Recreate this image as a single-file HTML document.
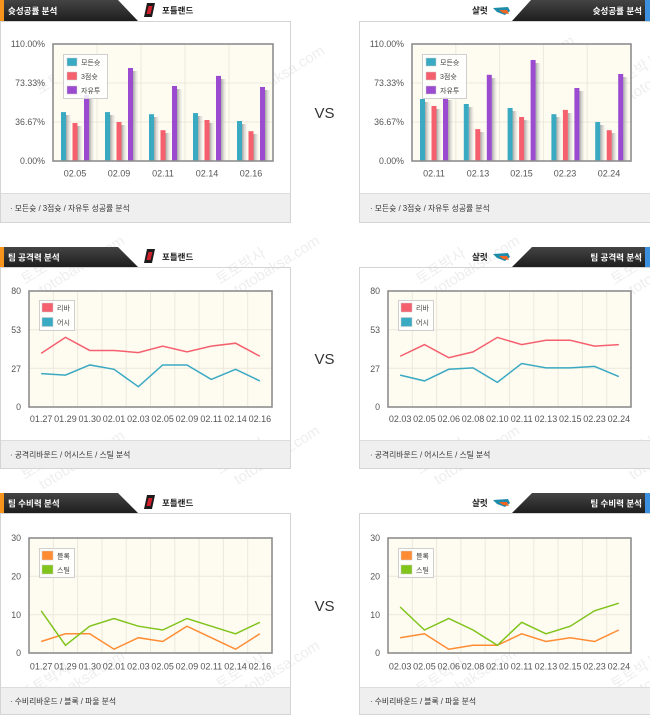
<!DOCTYPE html>
<html><head><meta charset="utf-8">
<style>
html,body{margin:0;padding:0;background:#fff;}
svg{display:block;}
text{font-family:"Liberation Sans","Noto Sans CJK KR",sans-serif;}
</style></head>
<body>
<svg width="650" height="717" viewBox="0 0 650 717" xmlns="http://www.w3.org/2000/svg">
<defs>
<linearGradient id="hd" x1="0" y1="0" x2="0" y2="1"><stop offset="0" stop-color="#444"/><stop offset="1" stop-color="#1e1e1e"/></linearGradient>
<linearGradient id="sh" x1="0" y1="0" x2="1" y2="0"><stop offset="0" stop-color="#888" stop-opacity="0.75"/><stop offset="1" stop-color="#ccc" stop-opacity="0.1"/></linearGradient>
</defs>

<!-- watermarks -->
<g fill="#000" fill-opacity="0.07" font-size="15">
<g transform="translate(40,95) rotate(-32)"><text x="0" y="0">토토박사</text><text x="10" y="18">totobaksa.com</text></g>
<g transform="translate(225,95) rotate(-32)"><text x="0" y="0">토토박사</text><text x="10" y="18">totobaksa.com</text></g>
<g transform="translate(475,85) rotate(-32)"><text x="0" y="0">토토박사</text><text x="10" y="18">totobaksa.com</text></g>
<g transform="translate(615,90) rotate(-32)"><text x="0" y="0">토토박사</text><text x="10" y="18">totobaksa.com</text></g>
<g transform="translate(25,285) rotate(-32)"><text x="0" y="0">토토박사</text><text x="10" y="18">totobaksa.com</text></g>
<g transform="translate(220,285) rotate(-32)"><text x="0" y="0">토토박사</text><text x="10" y="18">totobaksa.com</text></g>
<g transform="translate(420,285) rotate(-32)"><text x="0" y="0">토토박사</text><text x="10" y="18">totobaksa.com</text></g>
<g transform="translate(615,285) rotate(-32)"><text x="0" y="0">토토박사</text><text x="10" y="18">totobaksa.com</text></g>
<g transform="translate(25,480) rotate(-32)"><text x="0" y="0">토토박사</text><text x="10" y="18">totobaksa.com</text></g>
<g transform="translate(220,475) rotate(-32)"><text x="0" y="0">토토박사</text><text x="10" y="18">totobaksa.com</text></g>
<g transform="translate(420,475) rotate(-32)"><text x="0" y="0">토토박사</text><text x="10" y="18">totobaksa.com</text></g>
<g transform="translate(615,470) rotate(-32)"><text x="0" y="0">토토박사</text><text x="10" y="18">totobaksa.com</text></g>
<g transform="translate(25,700) rotate(-32)"><text x="0" y="0">토토박사</text><text x="10" y="18">totobaksa.com</text></g>
<g transform="translate(220,690) rotate(-32)"><text x="0" y="0">토토박사</text><text x="10" y="18">totobaksa.com</text></g>
<g transform="translate(420,695) rotate(-32)"><text x="0" y="0">토토박사</text><text x="10" y="18">totobaksa.com</text></g>
<g transform="translate(615,690) rotate(-32)"><text x="0" y="0">토토박사</text><text x="10" y="18">totobaksa.com</text></g>
</g>

<!-- ========== SECTION 1 ========== -->
<!-- panels -->
<rect x="0.5" y="21.5" width="290" height="201" fill="none" stroke="#d4d4d4"/>
<rect x="1" y="193" width="289" height="29" fill="#efefef"/>
<line x1="1" y1="193.5" x2="290" y2="193.5" stroke="#dcdcdc"/>
<rect x="359.5" y="21.5" width="291" height="201" fill="none" stroke="#d4d4d4"/>
<rect x="360" y="193" width="290" height="29" fill="#efefef"/>
<line x1="360" y1="193.5" x2="650" y2="193.5" stroke="#dcdcdc"/>
<!-- headers -->
<polygon points="0,0 118,0 138,21 0,21" fill="url(#hd)"/>
<rect x="0" y="0" width="4" height="21" fill="#f7941d"/>
<text x="8" y="14" font-size="8.5" font-weight="bold" fill="#fff">슛성공률 분석</text>
<polygon points="531,0 650,0 650,21 512,21" fill="url(#hd)"/>
<rect x="645" y="0" width="5" height="21" fill="#3d8fe0"/>
<text x="642" y="14" font-size="8.5" font-weight="bold" fill="#fff" text-anchor="end">슛성공률 분석</text>
<!-- team names -->
<polygon points="147,3 155,3 152,17 144,17" fill="#1c1c1c"/><polygon points="148.5,6 152.5,6 150.5,14 146.5,14" fill="#d0202b"/>
<text x="162" y="13.5" font-size="8.5" font-weight="bold" fill="#222">포틀랜드</text>
<text x="472" y="13.5" font-size="8.5" font-weight="bold" fill="#222">샬럿</text>
<g><path d="M493,8 L508,7 L510,11 L505,15 L497,12 Z" fill="#1d8cab"/><path d="M499,10 L507,10 L509,14 L503,13 Z" fill="#f26522"/></g>
<!-- VS -->
<text x="324.5" y="118" font-size="15" fill="#333" text-anchor="middle">VS</text>

<!-- Left bar chart -->
<rect x="53" y="44" width="220" height="117" fill="#fefbf1"/>
<g stroke="#ece8dc" stroke-width="1">
<line x1="97" y1="44" x2="97" y2="161"/><line x1="141" y1="44" x2="141" y2="161"/><line x1="185" y1="44" x2="185" y2="161"/><line x1="229" y1="44" x2="229" y2="161"/>
<line x1="53" y1="83" x2="273" y2="83"/><line x1="53" y1="122" x2="273" y2="122"/>
</g>
<g fill="url(#sh)">
<rect x="66" y="115" width="5" height="46"/><rect x="77.5" y="126" width="5" height="35"/><rect x="89" y="98" width="5" height="63"/>
<rect x="110" y="115" width="5" height="46"/><rect x="121.5" y="125" width="5" height="36"/><rect x="133" y="71" width="5" height="90"/>
<rect x="154" y="117" width="5" height="44"/><rect x="165.5" y="133" width="5" height="28"/><rect x="177" y="89" width="5" height="72"/>
<rect x="198" y="116" width="5" height="45"/><rect x="209.5" y="123" width="5" height="38"/><rect x="221" y="79" width="5" height="82"/>
<rect x="242" y="124" width="5" height="37"/><rect x="253.5" y="134" width="5" height="27"/><rect x="265" y="90" width="5" height="71"/>
</g>
<g>
<rect x="61" y="112.1" width="5" height="48.9" fill="#3aa9c2"/><rect x="72.5" y="123" width="5" height="38" fill="#f5606e"/><rect x="84" y="95.1" width="5" height="65.9" fill="#9b4bd0"/>
<rect x="105" y="112.1" width="5" height="48.9" fill="#3aa9c2"/><rect x="116.5" y="122" width="5" height="39" fill="#f5606e"/><rect x="128" y="68" width="5" height="93" fill="#9b4bd0"/>
<rect x="149" y="114.2" width="5" height="46.8" fill="#3aa9c2"/><rect x="160.5" y="130.2" width="5" height="30.8" fill="#f5606e"/><rect x="172" y="86" width="5" height="75" fill="#9b4bd0"/>
<rect x="193" y="113.1" width="5" height="47.9" fill="#3aa9c2"/><rect x="204.5" y="120" width="5" height="41" fill="#f5606e"/><rect x="216" y="75.9" width="5" height="85.1" fill="#9b4bd0"/>
<rect x="237" y="121" width="5" height="40" fill="#3aa9c2"/><rect x="248.5" y="131.2" width="5" height="29.8" fill="#f5606e"/><rect x="260" y="87" width="5" height="74" fill="#9b4bd0"/>
</g>
<rect x="53" y="44" width="220" height="117" fill="none" stroke="#8e8e8e" stroke-width="1.6"/>
<g font-size="8.8" fill="#555" text-anchor="end">
<text x="45" y="47">110.00%</text><text x="45" y="86">73.33%</text><text x="45" y="125">36.67%</text><text x="45" y="164">0.00%</text>
</g>
<g font-size="9" fill="#555" text-anchor="middle">
<text x="75" y="176.5">02.05</text><text x="119" y="176.5">02.09</text><text x="163" y="176.5">02.11</text><text x="207" y="176.5">02.14</text><text x="251" y="176.5">02.16</text>
</g>
<rect x="63.5" y="54.5" width="44" height="44" fill="#fff" fill-opacity="0.85" stroke="#cfcfcf"/>
<rect x="67" y="58" width="10" height="8" fill="#3aa9c2" stroke="#ccc" stroke-width="0.5"/>
<rect x="67" y="72" width="10" height="8" fill="#f5606e" stroke="#ccc" stroke-width="0.5"/>
<rect x="67" y="86" width="10" height="8" fill="#9b4bd0" stroke="#ccc" stroke-width="0.5"/>
<g font-size="7" fill="#444"><text x="81" y="65">모든슛</text><text x="81" y="79">3점슛</text><text x="81" y="93">자유투</text></g>
<text x="10" y="211" font-size="7.8" fill="#333">· 모든슛 / 3점슛 / 자유투 성공률 분석</text>

<!-- Right bar chart -->
<rect x="412" y="44" width="219" height="117" fill="#fefbf1"/>
<g stroke="#ece8dc" stroke-width="1">
<line x1="455.8" y1="44" x2="455.8" y2="161"/><line x1="499.6" y1="44" x2="499.6" y2="161"/><line x1="543.4" y1="44" x2="543.4" y2="161"/><line x1="587.2" y1="44" x2="587.2" y2="161"/>
<line x1="412" y1="83" x2="631" y2="83"/><line x1="412" y1="122" x2="631" y2="122"/>
</g>
<g fill="url(#sh)">
<rect x="425" y="102" width="5" height="59"/><rect x="436.5" y="109" width="5" height="52"/><rect x="448" y="100" width="5" height="61"/>
<rect x="468.8" y="107" width="5" height="54"/><rect x="480.3" y="132" width="5" height="29"/><rect x="491.8" y="78" width="5" height="83"/>
<rect x="512.6" y="111" width="5" height="50"/><rect x="524.1" y="120" width="5" height="41"/><rect x="535.6" y="63" width="5" height="98"/>
<rect x="556.4" y="117" width="5" height="44"/><rect x="567.9" y="113" width="5" height="48"/><rect x="579.4" y="91" width="5" height="70"/>
<rect x="600.2" y="125" width="5" height="36"/><rect x="611.7" y="133" width="5" height="28"/><rect x="623.2" y="77" width="5" height="84"/>
</g>
<g>
<rect x="420" y="99" width="5" height="62" fill="#3aa9c2"/><rect x="431.5" y="106" width="5" height="55" fill="#f5606e"/><rect x="443" y="97.2" width="5" height="63.8" fill="#9b4bd0"/>
<rect x="463.8" y="104" width="5" height="57" fill="#3aa9c2"/><rect x="475.3" y="129.1" width="5" height="31.9" fill="#f5606e"/><rect x="486.8" y="74.8" width="5" height="86.2" fill="#9b4bd0"/>
<rect x="507.6" y="108" width="5" height="53" fill="#3aa9c2"/><rect x="519.1" y="117" width="5" height="44" fill="#f5606e"/><rect x="530.6" y="60" width="5" height="101" fill="#9b4bd0"/>
<rect x="551.4" y="114.2" width="5" height="46.8" fill="#3aa9c2"/><rect x="562.9" y="109.9" width="5" height="51.1" fill="#f5606e"/><rect x="574.4" y="88" width="5" height="73" fill="#9b4bd0"/>
<rect x="595.2" y="122" width="5" height="39" fill="#3aa9c2"/><rect x="606.7" y="130.2" width="5" height="30.8" fill="#f5606e"/><rect x="618.2" y="74" width="5" height="87" fill="#9b4bd0"/>
</g>
<rect x="412" y="44" width="219" height="117" fill="none" stroke="#8e8e8e" stroke-width="1.6"/>
<g font-size="8.8" fill="#555" text-anchor="end">
<text x="404" y="47">110.00%</text><text x="404" y="86">73.33%</text><text x="404" y="125">36.67%</text><text x="404" y="164">0.00%</text>
</g>
<g font-size="9" fill="#555" text-anchor="middle">
<text x="434" y="176.5">02.11</text><text x="478" y="176.5">02.13</text><text x="521.5" y="176.5">02.15</text><text x="565" y="176.5">02.23</text><text x="609" y="176.5">02.24</text>
</g>
<rect x="422.5" y="54.5" width="44" height="44" fill="#fff" fill-opacity="0.85" stroke="#cfcfcf"/>
<rect x="426" y="58" width="10" height="8" fill="#3aa9c2" stroke="#ccc" stroke-width="0.5"/>
<rect x="426" y="72" width="10" height="8" fill="#f5606e" stroke="#ccc" stroke-width="0.5"/>
<rect x="426" y="86" width="10" height="8" fill="#9b4bd0" stroke="#ccc" stroke-width="0.5"/>
<g font-size="7" fill="#444"><text x="440" y="65">모든슛</text><text x="440" y="79">3점슛</text><text x="440" y="93">자유투</text></g>
<text x="370" y="211" font-size="7.8" fill="#333">· 모든슛 / 3점슛 / 자유투 성공률 분석</text>

<!-- ========== SECTION 2 ========== -->
<rect x="0.5" y="267.5" width="290" height="201" fill="none" stroke="#d4d4d4"/>
<rect x="1" y="440" width="289" height="28" fill="#efefef"/>
<line x1="1" y1="440.5" x2="290" y2="440.5" stroke="#dcdcdc"/>
<rect x="359.5" y="267.5" width="291" height="201" fill="none" stroke="#d4d4d4"/>
<rect x="360" y="440" width="290" height="28" fill="#efefef"/>
<line x1="360" y1="440.5" x2="650" y2="440.5" stroke="#dcdcdc"/>
<polygon points="0,247 118,247 138,267 0,267" fill="url(#hd)"/>
<rect x="0" y="247" width="4" height="20" fill="#f7941d"/>
<text x="8" y="260.5" font-size="8.5" font-weight="bold" fill="#fff">팀 공격력 분석</text>
<polygon points="532,247 650,247 650,267 512,267" fill="url(#hd)"/>
<rect x="645" y="247" width="5" height="20" fill="#3d8fe0"/>
<text x="642" y="260.5" font-size="8.5" font-weight="bold" fill="#fff" text-anchor="end">팀 공격력 분석</text>
<polygon points="147,249 155,249 152,263 144,263" fill="#1c1c1c"/><polygon points="148.5,252 152.5,252 150.5,260 146.5,260" fill="#d0202b"/>
<text x="162" y="260" font-size="8.5" font-weight="bold" fill="#222">포틀랜드</text>
<text x="472" y="260" font-size="8.5" font-weight="bold" fill="#222">샬럿</text>
<g><path d="M493,254 L508,253 L510,257 L505,261 L497,258 Z" fill="#1d8cab"/><path d="M499,256 L507,256 L509,260 L503,259 Z" fill="#f26522"/></g>
<text x="324.5" y="364" font-size="15" fill="#333" text-anchor="middle">VS</text>

<!-- left line chart (offense) -->
<rect x="29" y="291" width="243" height="116" fill="#fefbf1"/>
<g stroke="#ece8dc" stroke-width="1">
<line x1="53.3" y1="291" x2="53.3" y2="407"/><line x1="77.6" y1="291" x2="77.6" y2="407"/><line x1="101.9" y1="291" x2="101.9" y2="407"/><line x1="126.2" y1="291" x2="126.2" y2="407"/><line x1="150.5" y1="291" x2="150.5" y2="407"/><line x1="174.8" y1="291" x2="174.8" y2="407"/><line x1="199.1" y1="291" x2="199.1" y2="407"/><line x1="223.4" y1="291" x2="223.4" y2="407"/><line x1="247.7" y1="291" x2="247.7" y2="407"/>
<line x1="29" y1="329.7" x2="272" y2="329.7"/><line x1="29" y1="368.3" x2="272" y2="368.3"/>
</g>
<polyline fill="none" stroke="#f5606e" stroke-width="1.5" points="41.15,353.35 65.45,337.4 89.75,350.45 114.05,350.45 138.35,352.6 162.65,346.1 186.95,351.9 211.25,346.1 235.55,343.2 259.85,356.25"/>
<polyline fill="none" stroke="#3aa9c2" stroke-width="1.5" points="41.15,373.65 65.45,375.1 89.75,364.95 114.05,369.3 138.35,386.7 162.65,364.95 186.95,364.95 211.25,379.45 235.55,369.3 259.85,380.9"/>
<rect x="29" y="291" width="243" height="116" fill="none" stroke="#8e8e8e" stroke-width="1.6"/>
<g font-size="8.8" fill="#555" text-anchor="end">
<text x="21" y="294">80</text><text x="21" y="333">53</text><text x="21" y="372">27</text><text x="21" y="410">0</text>
</g>
<g font-size="9" fill="#555" text-anchor="middle">
<text x="41.15" y="422">01.27</text><text x="65.45" y="422">01.29</text><text x="89.75" y="422">01.30</text><text x="114.05" y="422">02.01</text><text x="138.35" y="422">02.03</text><text x="162.65" y="422">02.05</text><text x="186.95" y="422">02.09</text><text x="211.25" y="422">02.11</text><text x="235.55" y="422">02.14</text><text x="259.85" y="422">02.16</text>
</g>
<rect x="39.5" y="300.5" width="35" height="30" fill="#fff" fill-opacity="0.85" stroke="#cfcfcf"/>
<rect x="42" y="303" width="11" height="9" fill="#f5606e" stroke="#ccc" stroke-width="0.5"/>
<rect x="42" y="317.5" width="11" height="9" fill="#3aa9c2" stroke="#ccc" stroke-width="0.5"/>
<g font-size="7" fill="#444"><text x="57" y="310.5">리바</text><text x="57" y="325">어시</text></g>
<text x="10" y="457.5" font-size="7.8" fill="#333">· 공격리바운드 / 어시스트 / 스틸 분석</text>

<!-- right line chart (offense) -->
<rect x="388" y="291" width="243" height="116" fill="#fefbf1"/>
<g stroke="#ece8dc" stroke-width="1">
<line x1="412.3" y1="291" x2="412.3" y2="407"/><line x1="436.6" y1="291" x2="436.6" y2="407"/><line x1="460.9" y1="291" x2="460.9" y2="407"/><line x1="485.2" y1="291" x2="485.2" y2="407"/><line x1="509.5" y1="291" x2="509.5" y2="407"/><line x1="533.8" y1="291" x2="533.8" y2="407"/><line x1="558.1" y1="291" x2="558.1" y2="407"/><line x1="582.4" y1="291" x2="582.4" y2="407"/><line x1="606.7" y1="291" x2="606.7" y2="407"/>
<line x1="388" y1="329.7" x2="631" y2="329.7"/><line x1="388" y1="368.3" x2="631" y2="368.3"/>
</g>
<polyline fill="none" stroke="#f5606e" stroke-width="1.5" points="400.15,356.25 424.45,344.65 448.75,357.7 473.05,351.9 497.35,337.4 521.65,344.65 545.95,340.3 570.25,340.3 594.55,346.1 618.85,344.65"/>
<polyline fill="none" stroke="#3aa9c2" stroke-width="1.5" points="400.15,375.1 424.45,380.9 448.75,369.3 473.05,367.85 497.35,382.35 521.65,363.5 545.95,367.85 570.25,367.85 594.55,366.4 618.85,376.55"/>
<rect x="388" y="291" width="243" height="116" fill="none" stroke="#8e8e8e" stroke-width="1.6"/>
<g font-size="8.8" fill="#555" text-anchor="end">
<text x="380" y="294">80</text><text x="380" y="333">53</text><text x="380" y="372">27</text><text x="380" y="410">0</text>
</g>
<g font-size="9" fill="#555" text-anchor="middle">
<text x="400.15" y="422">02.03</text><text x="424.45" y="422">02.05</text><text x="448.75" y="422">02.06</text><text x="473.05" y="422">02.08</text><text x="497.35" y="422">02.10</text><text x="521.65" y="422">02.11</text><text x="545.95" y="422">02.13</text><text x="570.25" y="422">02.15</text><text x="594.55" y="422">02.23</text><text x="618.85" y="422">02.24</text>
</g>
<rect x="398.5" y="300.5" width="35" height="30" fill="#fff" fill-opacity="0.85" stroke="#cfcfcf"/>
<rect x="401" y="303" width="11" height="9" fill="#f5606e" stroke="#ccc" stroke-width="0.5"/>
<rect x="401" y="317.5" width="11" height="9" fill="#3aa9c2" stroke="#ccc" stroke-width="0.5"/>
<g font-size="7" fill="#444"><text x="416" y="310.5">리바</text><text x="416" y="325">어시</text></g>
<text x="370" y="457.5" font-size="7.8" fill="#333">· 공격리바운드 / 어시스트 / 스틸 분석</text>

<!-- ========== SECTION 3 ========== -->
<rect x="0.5" y="513.5" width="290" height="201" fill="none" stroke="#d4d4d4"/>
<rect x="1" y="687" width="289" height="27" fill="#efefef"/>
<line x1="1" y1="687.5" x2="290" y2="687.5" stroke="#dcdcdc"/>
<rect x="359.5" y="513.5" width="291" height="201" fill="none" stroke="#d4d4d4"/>
<rect x="360" y="687" width="290" height="27" fill="#efefef"/>
<line x1="360" y1="687.5" x2="650" y2="687.5" stroke="#dcdcdc"/>
<polygon points="0,493 118,493 138,513 0,513" fill="url(#hd)"/>
<rect x="0" y="493" width="4" height="20" fill="#f7941d"/>
<text x="8" y="506.5" font-size="8.5" font-weight="bold" fill="#fff">팀 수비력 분석</text>
<polygon points="532,493 650,493 650,513 512,513" fill="url(#hd)"/>
<rect x="645" y="493" width="5" height="20" fill="#3d8fe0"/>
<text x="642" y="506.5" font-size="8.5" font-weight="bold" fill="#fff" text-anchor="end">팀 수비력 분석</text>
<polygon points="147,495 155,495 152,509 144,509" fill="#1c1c1c"/><polygon points="148.5,498 152.5,498 150.5,506 146.5,506" fill="#d0202b"/>
<text x="162" y="506" font-size="8.5" font-weight="bold" fill="#222">포틀랜드</text>
<text x="472" y="506" font-size="8.5" font-weight="bold" fill="#222">샬럿</text>
<g><path d="M493,500 L508,499 L510,503 L505,507 L497,504 Z" fill="#1d8cab"/><path d="M499,502 L507,502 L509,506 L503,505 Z" fill="#f26522"/></g>
<text x="324.5" y="611" font-size="15" fill="#333" text-anchor="middle">VS</text>

<!-- left line chart (defense) -->
<rect x="29" y="538" width="243" height="115" fill="#fefbf1"/>
<g stroke="#ece8dc" stroke-width="1">
<line x1="53.3" y1="538" x2="53.3" y2="653"/><line x1="77.6" y1="538" x2="77.6" y2="653"/><line x1="101.9" y1="538" x2="101.9" y2="653"/><line x1="126.2" y1="538" x2="126.2" y2="653"/><line x1="150.5" y1="538" x2="150.5" y2="653"/><line x1="174.8" y1="538" x2="174.8" y2="653"/><line x1="199.1" y1="538" x2="199.1" y2="653"/><line x1="223.4" y1="538" x2="223.4" y2="653"/><line x1="247.7" y1="538" x2="247.7" y2="653"/>
<line x1="29" y1="576.3" x2="272" y2="576.3"/><line x1="29" y1="614.7" x2="272" y2="614.7"/>
</g>
<polyline fill="none" stroke="#ff8c33" stroke-width="1.5" points="41.15,641.5 65.45,633.8 89.75,633.8 114.05,649.2 138.35,637.7 162.65,641.5 186.95,626.2 211.25,637.7 235.55,649.2 259.85,633.8"/>
<polyline fill="none" stroke="#80c41c" stroke-width="1.5" points="41.15,610.8 65.45,645.3 89.75,626.2 114.05,618.5 138.35,626.2 162.65,630 186.95,618.5 211.25,626.2 235.55,633.8 259.85,622.3"/>
<rect x="29" y="538" width="243" height="115" fill="none" stroke="#8e8e8e" stroke-width="1.6"/>
<g font-size="8.8" fill="#555" text-anchor="end">
<text x="21" y="541">30</text><text x="21" y="579.5">20</text><text x="21" y="618">10</text><text x="21" y="656">0</text>
</g>
<g font-size="9" fill="#555" text-anchor="middle">
<text x="41.15" y="669.5">01.27</text><text x="65.45" y="669.5">01.29</text><text x="89.75" y="669.5">01.30</text><text x="114.05" y="669.5">02.01</text><text x="138.35" y="669.5">02.03</text><text x="162.65" y="669.5">02.05</text><text x="186.95" y="669.5">02.09</text><text x="211.25" y="669.5">02.11</text><text x="235.55" y="669.5">02.14</text><text x="259.85" y="669.5">02.16</text>
</g>
<rect x="39.5" y="548.5" width="35" height="29" fill="#fff" fill-opacity="0.85" stroke="#cfcfcf"/>
<rect x="42" y="551" width="11" height="9" fill="#ff8c33" stroke="#ccc" stroke-width="0.5"/>
<rect x="42" y="565" width="11" height="9" fill="#80c41c" stroke="#ccc" stroke-width="0.5"/>
<g font-size="7" fill="#444"><text x="57" y="558.5">블록</text><text x="57" y="572.5">스틸</text></g>
<text x="10" y="704" font-size="7.8" fill="#333">· 수비리바운드 / 블록 / 파울 분석</text>

<!-- right line chart (defense) -->
<rect x="388" y="538" width="243" height="115" fill="#fefbf1"/>
<g stroke="#ece8dc" stroke-width="1">
<line x1="412.3" y1="538" x2="412.3" y2="653"/><line x1="436.6" y1="538" x2="436.6" y2="653"/><line x1="460.9" y1="538" x2="460.9" y2="653"/><line x1="485.2" y1="538" x2="485.2" y2="653"/><line x1="509.5" y1="538" x2="509.5" y2="653"/><line x1="533.8" y1="538" x2="533.8" y2="653"/><line x1="558.1" y1="538" x2="558.1" y2="653"/><line x1="582.4" y1="538" x2="582.4" y2="653"/><line x1="606.7" y1="538" x2="606.7" y2="653"/>
<line x1="388" y1="576.3" x2="631" y2="576.3"/><line x1="388" y1="614.7" x2="631" y2="614.7"/>
</g>
<polyline fill="none" stroke="#ff8c33" stroke-width="1.5" points="400.15,637.7 424.45,633.8 448.75,649.2 473.05,645.3 497.35,645.3 521.65,633.8 545.95,641.5 570.25,637.7 594.55,641.5 618.85,630"/>
<polyline fill="none" stroke="#80c41c" stroke-width="1.5" points="400.15,607 424.45,630 448.75,618.5 473.05,630 497.35,645.3 521.65,622.3 545.95,633.8 570.25,626.2 594.55,610.8 618.85,603.2"/>
<rect x="388" y="538" width="243" height="115" fill="none" stroke="#8e8e8e" stroke-width="1.6"/>
<g font-size="8.8" fill="#555" text-anchor="end">
<text x="380" y="541">30</text><text x="380" y="579.5">20</text><text x="380" y="618">10</text><text x="380" y="656">0</text>
</g>
<g font-size="9" fill="#555" text-anchor="middle">
<text x="400.15" y="669.5">02.03</text><text x="424.45" y="669.5">02.05</text><text x="448.75" y="669.5">02.06</text><text x="473.05" y="669.5">02.08</text><text x="497.35" y="669.5">02.10</text><text x="521.65" y="669.5">02.11</text><text x="545.95" y="669.5">02.13</text><text x="570.25" y="669.5">02.15</text><text x="594.55" y="669.5">02.23</text><text x="618.85" y="669.5">02.24</text>
</g>
<rect x="398.5" y="548.5" width="35" height="29" fill="#fff" fill-opacity="0.85" stroke="#cfcfcf"/>
<rect x="401" y="551" width="11" height="9" fill="#ff8c33" stroke="#ccc" stroke-width="0.5"/>
<rect x="401" y="565" width="11" height="9" fill="#80c41c" stroke="#ccc" stroke-width="0.5"/>
<g font-size="7" fill="#444"><text x="416" y="558.5">블록</text><text x="416" y="572.5">스틸</text></g>
<text x="370" y="704" font-size="7.8" fill="#333">· 수비리바운드 / 블록 / 파울 분석</text>
</svg>
</body></html>
